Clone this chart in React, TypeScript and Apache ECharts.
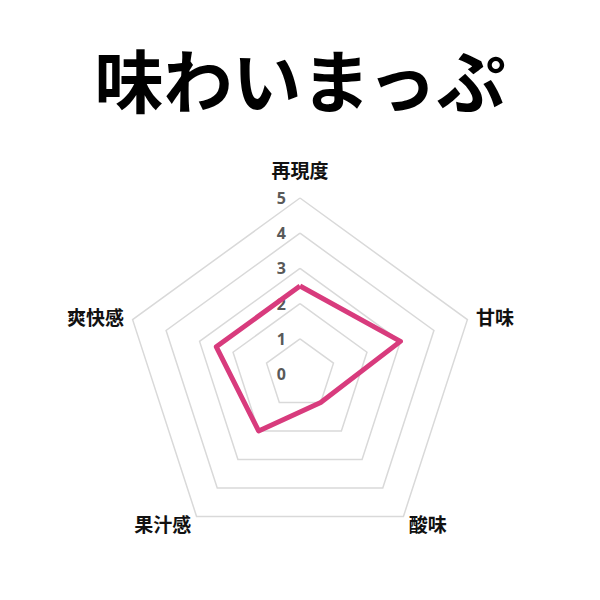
import * as echarts from "echarts"
import { useEffect, useRef } from "react"

const title = "味わいまっぷ"
// listed clockwise from the top
const indicators = ["再現度", "甘味", "酸味", "果汁感", "爽快感"]
const maxScore = 5
const scores = [2.5, 3, 1, 2, 2.5]

export default function App() {
  const ref = useRef<HTMLDivElement>(null)

  useEffect(() => {
    document.body.style.margin = "0"
    if (!ref.current) return
    const chart = echarts.init(ref.current, null, { renderer: "svg" })

    // ECharts lays radar axes out counter-clockwise, so keep the first and flip the rest
    const order = [0, ...indicators.slice(1).map((_, i) => indicators.length - 1 - i)]

    chart.setOption({
      animation: false,
      backgroundColor: "#ffffff",
      title: {
        text: title,
        left: "center",
        top: 38,
        textStyle: {
          fontFamily: "Noto Sans CJK JP",
          fontSize: 69,
          fontWeight: "bold",
          color: "#000000",
        },
      },
      radar: {
        center: [300, 374],
        radius: 176,
        startAngle: 90,
        shape: "polygon",
        splitNumber: 5,
        nameGap: 9,
        axisName: {
          color: "#111111",
          fontFamily: "Noto Sans CJK JP",
          fontSize: 19,
          fontWeight: "bold",
        },
        axisLine: { show: false },
        axisTick: { show: false },
        axisLabel: { show: false },
        splitArea: { show: false },
        splitLine: { lineStyle: { color: "#d9d9d9", width: 1.5 } },
        // only the top axis carries the 0..5 scale
        indicator: order.map((k, i) => ({
          name: indicators[k],
          min: 0,
          max: maxScore,
          ...(i === 0
            ? {
                nameGap: 19,
                axisLabel: {
                  show: true,
                  margin: 14,
                  color: "#595959",
                  fontSize: 16,
                  fontWeight: "bold",
                  fontFamily: "Noto Sans",
                },
              }
            : {}),
        })),
      },
      series: [
        {
          type: "radar",
          symbol: "none",
          lineStyle: { color: "#d83b7d", width: 5 },
          data: [{ value: order.map((k) => scores[k]) }],
        },
      ],
    })

    return () => chart.dispose()
  }, [])

  return <div ref={ref} style={{ width: 600, height: 600 }} />
}
